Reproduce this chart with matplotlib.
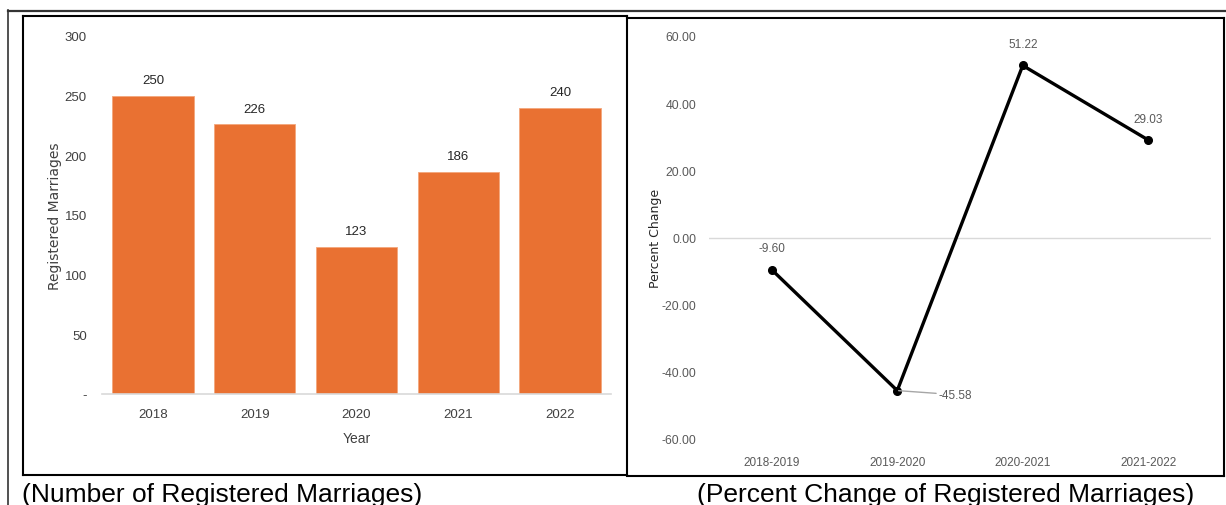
import matplotlib.pyplot as plt
from matplotlib.lines import Line2D

years = ["2018", "2019", "2020", "2021", "2022"]
marriages = [250, 226, 123, 186, 240]

periods = ["2018-2019", "2019-2020", "2020-2021", "2021-2022"]
pct_change = [-9.60, -45.58, 51.22, 29.03]

W, H = 1226, 506
NARROW = ["Liberation Sans", "DejaVu Sans"]


def px(x0, y0, x1, y1):
    """pixel box (top-left origin) -> figure fraction [l, b, w, h]"""
    return [x0 / W, 1 - y1 / H, (x1 - x0) / W, (y1 - y0) / H]


def hline(fig, x0, x1, y, lw=1.5, color="black"):
    fig.add_artist(Line2D([x0 / W, x1 / W], [1 - y / H, 1 - y / H],
                          color=color, lw=lw, transform=fig.transFigure))


def vline(fig, x, y0, y1, lw=1.5, color="black"):
    fig.add_artist(Line2D([x / W, x / W], [1 - y0 / H, 1 - y1 / H],
                          color=color, lw=lw, transform=fig.transFigure))


fig = plt.figure(figsize=(W / 100, H / 100), dpi=100)

# frames around the two panels
hline(fig, 8, W, 11.5, lw=1.6, color="#333333")
vline(fig, 8, 11, H, lw=1.2, color="#333333")
hline(fig, 23, 627, 17)
hline(fig, 23, 627, 476)
vline(fig, 23, 17, 476)
vline(fig, 627, 17, 476)
hline(fig, 627, 1224, 19)
hline(fig, 627, 1224, 477)
vline(fig, 1224, 19, 477)

# ---- number of registered marriages ----
ax1 = fig.add_axes(px(102, 37, 611, 395))
x1 = range(len(years))
ax1.bar(x1, marriages, width=0.8, color="#E97132", edgecolor="#F3A77C", linewidth=0.6)
for i, v in zip(x1, marriages):
    ax1.annotate(str(v), (i, v), xytext=(0, 7), textcoords="offset points",
                 ha="center", va="bottom", fontsize=9.5, color="#262626", family=NARROW)
ax1.set_xlim(-0.5, 4.5)
ax1.set_ylim(0, 300)
ax1.set_yticks([0, 50, 100, 150, 200, 250, 300])
ax1.set_yticklabels(["-", "50", "100", "150", "200", "250", "300"])
ax1.set_xticks(list(x1))
ax1.set_xticklabels(years)
ax1.tick_params(axis="y", length=0, pad=11, labelsize=9.5, labelcolor="#404040")
ax1.tick_params(axis="x", length=0, pad=10, labelsize=9.5, labelcolor="#404040")
for lab in ax1.get_xticklabels() + ax1.get_yticklabels():
    lab.set_family(NARROW)
for s in ["top", "right", "left"]:
    ax1.spines[s].set_visible(False)
ax1.spines["bottom"].set_color("#d9d9d9")
ax1.spines["bottom"].set_linewidth(1.2)
ax1.set_xlabel("Year", fontsize=10, color="#404040", family=NARROW, labelpad=8)
ax1.set_ylabel("Registered Marriages", fontsize=10, color="#404040", labelpad=2)

# ---- percent change ----
ax2 = fig.add_axes(px(709, 37, 1211, 440))
x2 = list(range(len(periods)))
ax2.axhline(0, color="#d9d9d9", lw=1)
ax2.plot(x2, pct_change, color="black", lw=2.4, marker="o", markersize=5.5, zorder=3)
label_offsets = [(0, 11), (30, -3), (0, 11), (0, 11)]
for i, (v, off) in enumerate(zip(pct_change, label_offsets)):
    if off[0]:
        ax2.annotate(f"{v:.2f}", (i, v), xytext=off, textcoords="offset points",
                     ha="left", va="center", fontsize=8.5, color="#595959", family=NARROW,
                     arrowprops=dict(arrowstyle="-", color="#a6a6a6", lw=1, shrinkA=0, shrinkB=1))
    else:
        ax2.annotate(f"{v:.2f}", (i, v), xytext=off, textcoords="offset points",
                     ha="center", va="bottom", fontsize=8.5, color="#595959", family=NARROW)
ax2.set_xlim(-0.5, 3.5)
ax2.set_ylim(-60, 60)
ax2.set_yticks(range(-60, 61, 20))
ax2.set_yticklabels([f"{t:.2f}" for t in range(-60, 61, 20)])
ax2.set_xticks(x2)
ax2.set_xticklabels(periods)
ax2.tick_params(axis="y", length=0, pad=9, labelsize=8.8, labelcolor="#595959")
ax2.tick_params(axis="x", length=0, pad=12, labelsize=8.5, labelcolor="#595959")
for lab in ax2.get_xticklabels() + ax2.get_yticklabels():
    lab.set_family(NARROW)
for s in ax2.spines.values():
    s.set_visible(False)
ax2.set_ylabel("Percent Change", fontsize=9, color="#262626", labelpad=0)

# captions under the panels
fig.text(22 / W, 1 - 495 / H, "(Number of Registered Marriages)", fontsize=19,
         family="Liberation Sans", va="center", ha="left")
fig.text(697 / W, 1 - 495 / H, "(Percent Change of Registered Marriages)", fontsize=19,
         family="Liberation Sans", va="center", ha="left")

fig.savefig("out.png", dpi=100)
